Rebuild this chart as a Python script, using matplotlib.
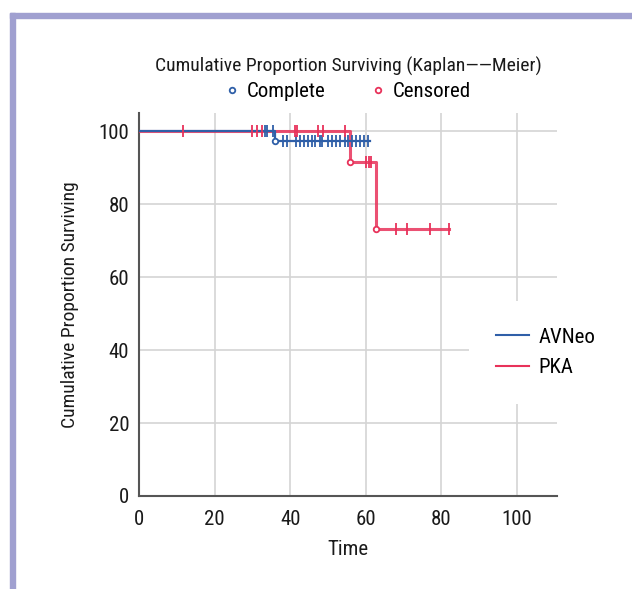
import matplotlib
matplotlib.use('Agg')
import matplotlib.pyplot as plt
from matplotlib.lines import Line2D
from matplotlib.patches import Rectangle

plt.rcParams['font.family'] = ['Roboto Condensed', 'DejaVu Sans']
plt.rcParams['font.stretch'] = 'condensed'

# step curves (time, survival %)
avneo_t = [0, 35.9, 61.0]
avneo_s = [100, 97.3, 97.3]
pka_t = [0, 55.8, 62.7, 82.1]
pka_s = [100, 91.7, 73.3, 73.3]

# events (complete)
avneo_evt_t = [35.9]
avneo_evt_s = [97.3]
pka_evt_t = [55.8, 62.7]
pka_evt_s = [91.7, 73.3]

# censored times
avneo_cens_t = [33.2, 33.8, 35.4, 38.1, 39.2, 41.6, 42.7, 43.6, 44.7, 45.7, 46.6,
                47.8, 48.5, 49.9, 51.1, 52.2, 53.2, 54.4, 55.4, 56.4, 57.4, 58.5,
                59.4, 60.5]
avneo_cens_s = [100, 100, 100] + [97.3] * 21
pka_cens_t = [11.6, 29.8, 31.1, 32.5, 41.2, 41.9, 47.3, 48.6, 54.6,
              60.1, 60.8, 61.4, 68.0, 70.8, 77.0, 82.1]
pka_cens_s = [100] * 9 + [91.7] * 3 + [73.3] * 4

xticks = [0, 20, 40, 60, 80, 100]
yticks = [0, 20, 40, 60, 80, 100]

blue = '#2f5fa8'
red = '#e8325a'
fs = 14

fig = plt.figure(figsize=(6.32, 5.89), dpi=100)
ax = fig.add_axes([0.220, 0.158, 0.661, 0.650])

# frame decoration
fig.patches.append(Rectangle((10/632, 1 - 18/589), 1, 5/589, transform=fig.transFigure,
                             color='#a0a0d0', zorder=0))
fig.patches.append(Rectangle((10/632, 0), 5/632, 1 - 13/589, transform=fig.transFigure,
                             color='#a0a0d0', zorder=0))

ax.step(pka_t, pka_s, where='post', color=red, lw=2.2, alpha=0.85, label='PKA', zorder=3)
ax.step(avneo_t, avneo_s, where='post', color=blue, lw=1.6, label='AVNeo', zorder=4)
ax.plot(avneo_cens_t, avneo_cens_s, ls='', marker='|', ms=8, mew=1.3, color=blue, zorder=5)
ax.plot(pka_cens_t, pka_cens_s, ls='', marker='|', ms=8, mew=1.3, color=red, zorder=5)
ax.plot(avneo_evt_t, avneo_evt_s, ls='', marker='o', ms=4, mfc='white', mew=1.3, color=blue, zorder=6)
ax.plot(pka_evt_t, pka_evt_s, ls='', marker='o', ms=4, mfc='white', mew=1.3, color=red, zorder=6)

ax.set_xlim(0, 110.5)
ax.set_ylim(0, 105)
ax.set_xticks(xticks)
ax.set_yticks(yticks)
ax.grid(True, color='#d4d4d4', lw=1.2)
ax.set_axisbelow(True)
for s in ['top', 'right']:
    ax.spines[s].set_visible(False)
for s in ['left', 'bottom']:
    ax.spines[s].set_color('#555555')
    ax.spines[s].set_linewidth(1.5)
ax.tick_params(length=0, labelsize=fs + 1, colors='#1a1a1a')
ax.tick_params(axis='x', pad=10)
ax.tick_params(axis='y', pad=7)
ax.set_xlabel('Time', fontsize=fs + 1, color='#1a1a1a', labelpad=8)
ax.set_ylabel('Cumulative Proportion Surviving', fontsize=fs, color='#1a1a1a', labelpad=14)

handles = [Line2D([], [], color=blue, lw=1.5), Line2D([], [], color=red, lw=1.5)]
leg = ax.legend(handles, ['AVNeo', 'PKA'], loc='center left', bbox_to_anchor=(0.765, 0.375),
                fontsize=fs + 1, frameon=True, facecolor='white', edgecolor='none', framealpha=1,
                handlelength=1.6, labelspacing=0.55, borderpad=1.3, handletextpad=0.45)

fig.text(0.551, 0.888, 'Cumulative Proportion Surviving (Kaplan——Meier)', ha='center', va='center',
         fontsize=fs, color='#1a1a1a')
mh = [Line2D([], [], ls='', marker='o', ms=4, mfc='white', mew=1.3, color=blue),
      Line2D([], [], ls='', marker='o', ms=4, mfc='white', mew=1.3, color=red)]
fig.legend(mh, ['Complete', 'Censored'], loc='center', bbox_to_anchor=(0.551, 0.845), ncol=2,
           fontsize=fs + 1, frameon=False, handlelength=0.6, handletextpad=0.4, columnspacing=2.2)

fig.savefig('out.png', dpi=100)
